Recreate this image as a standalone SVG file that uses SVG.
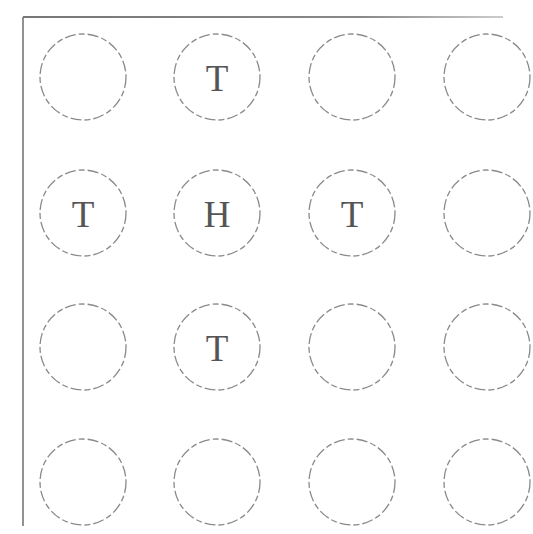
<svg xmlns="http://www.w3.org/2000/svg" width="533" height="534" viewBox="0 0 533 534">
<style>
.c{fill:none;stroke:#8a8a8a;stroke-width:1.3;stroke-dasharray:11 3 6 3}
.t{font-family:"Liberation Serif","Times New Roman",serif;font-size:37px;fill:#555;text-anchor:middle}
.b{stroke:#777;stroke-width:1.6;fill:none}
</style>
<defs>
<linearGradient id="g" gradientUnits="userSpaceOnUse" x1="23" y1="0" x2="503" y2="0">
<stop offset="0" stop-color="#777"/>
<stop offset="0.7" stop-color="#888"/>
<stop offset="1" stop-color="#ccc"/>
</linearGradient>
</defs>
<g id="frame">
<line x1="23" y1="17" x2="503" y2="17" stroke="url(#g)" stroke-width="1.8"/>
<line class="b" x1="23" y1="17" x2="23" y2="526"/>
</g>
<g id="n11"><circle class="c" cx="83" cy="77" r="43"/></g>
<g id="n12"><circle class="c" cx="217" cy="77" r="43"/><text class="t" x="217" y="91">T</text></g>
<g id="n13"><circle class="c" cx="352" cy="77" r="43"/></g>
<g id="n14"><circle class="c" cx="487" cy="77" r="43"/></g>
<g id="n21"><circle class="c" cx="83" cy="213" r="43"/><text class="t" x="83" y="227">T</text></g>
<g id="n22"><circle class="c" cx="217" cy="213" r="43"/><text class="t" x="217" y="227">H</text></g>
<g id="n23"><circle class="c" cx="352" cy="213" r="43"/><text class="t" x="352" y="227">T</text></g>
<g id="n24"><circle class="c" cx="487" cy="213" r="43"/></g>
<g id="n31"><circle class="c" cx="83" cy="347" r="43"/></g>
<g id="n32"><circle class="c" cx="217" cy="347" r="43"/><text class="t" x="217" y="361">T</text></g>
<g id="n33"><circle class="c" cx="352" cy="347" r="43"/></g>
<g id="n34"><circle class="c" cx="487" cy="347" r="43"/></g>
<g id="n41"><circle class="c" cx="83" cy="482" r="43"/></g>
<g id="n42"><circle class="c" cx="217" cy="482" r="43"/></g>
<g id="n43"><circle class="c" cx="352" cy="482" r="43"/></g>
<g id="n44"><circle class="c" cx="487" cy="482" r="43"/></g>
</svg>
